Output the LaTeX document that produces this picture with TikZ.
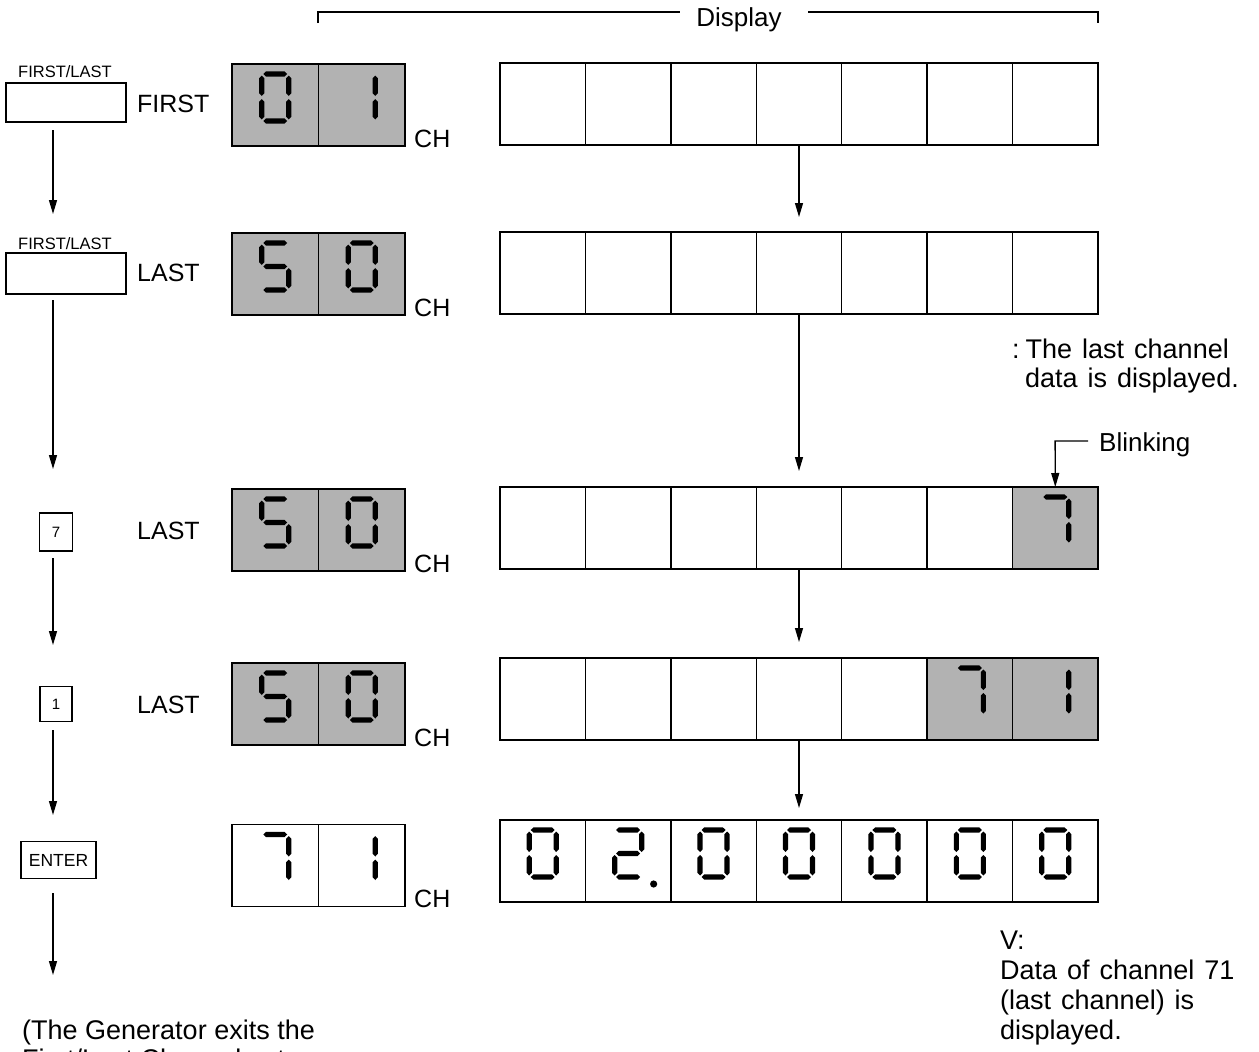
\documentclass[tikz,border=0pt]{standalone}
\usepackage{fontspec}
\setmainfont{Liberation Sans}
\usetikzlibrary{arrows.meta}
% seven segment helpers
\newcommand\HS[3]{\fill ({#1+1.5},#3) -- ({#1+4.2},{#3-2.6}) -- ({#2-4.2},{#3-2.6}) -- ({#2-1.5},#3) -- ({#2-4.2},{#3+2.6}) -- ({#1+4.2},{#3+2.6}) -- cycle;}
\newcommand\VS[3]{\fill (#1,{#2+1.5}) -- ({#1+2.6},{#2+4.2}) -- ({#1+2.6},{#3-4.2}) -- (#1,{#3-1.5}) -- ({#1-2.6},{#3-4.2}) -- ({#1-2.6},{#2+4.2}) -- cycle;}
\newcommand\ssga{\HS{0}{27}{0}}
\newcommand\ssgb{\VS{27}{0}{23.5}}
\newcommand\ssgc{\VS{27}{23.5}{47}}
\newcommand\ssgd{\HS{0}{27}{47}}
\newcommand\ssge{\VS{0}{23.5}{47}}
\newcommand\ssgf{\VS{0}{0}{23.5}}
\newcommand\ssgg{\HS{0}{27}{23.5}}
\newcommand\ssgp{\fill (39,54) circle[radius=3.6];}
\newcommand\SSD[2]{\begin{scope}[shift={(#1)},shift={(-13.5,-31)}]\foreach \s in {#2}{\csname ssg\s\endcsname}\end{scope}}
\newcommand\wsp[1]{\spaceskip=#1\relax}
\begin{document}
\begin{tikzpicture}[x=1pt,y=-1pt,
  box/.style={draw, line width=1.5pt, inner sep=0pt, outer sep=0pt},
  shaded/.style={fill=black!30},
  cell/.style={box, minimum width=85.43pt, minimum height=82pt},
  chb/.style={box, minimum width=86.5pt, minimum height=82pt},
  big/.style={font=\fontsize{25}{30}\selectfont, inner sep=0pt},
  mid/.style={font=\fontsize{26}{30}\selectfont, inner sep=0pt},
  note/.style={font=\fontsize{27}{30}\selectfont, inner sep=0pt},
  small/.style={font=\fontsize{16.5}{20}\selectfont, inner sep=0pt},
  arr/.style={-{Triangle[length=14pt,width=8pt]}, line width=1.3pt}]
\useasboundingbox (0,0) rectangle (1259,1052);

% Display bracket
\node[mid, anchor=base] (disp) at (739,26) {Display};
\coordinate (bl) at (318,23);
\coordinate (bl2) at (318,12);
\coordinate (bl3) at (680,12);
\coordinate (br) at (1098,23);
\coordinate (br2) at (1098,12);
\coordinate (br3) at (808,12);
\draw[line width=1.3pt] (bl) -- (bl2) -- (bl3);
\draw[line width=1.3pt] (br3) -- (br2) -- (br);

% data cells
\foreach \r/\y in {1/104,2/273,3/528,4/699,5/861}{
  \foreach \i in {1,...,7}{
    \node[cell] (d\r-\i) at ({500+85.43*(\i-0.5)},\y) {};
  }
}
\foreach \n in {d3-7,d4-6,d4-7}{
  \fill[shaded] (\n.north west) rectangle (\n.south east);
  \draw[line width=1.5pt] (\n.north west) rectangle (\n.south east);
}

% channel boxes
\foreach \r/\y/\st in {1/105/shaded,2/274/shaded,3/530/shaded,4/704/shaded,5/865.5/{}}{
  \node[chb,\st] (c\r a) at (275.25,\y) {};
  \node[chb,\st] (c\r b) at (361.75,\y) {};
  \node[big, anchor=base west] (ch\r) at ([xshift=9pt,yshift=-1pt]c\r b.south east) {CH};
}

% digits in channel boxes
\SSD{c1a}{a,b,c,d,e,f}
\SSD{c1b}{b,c}
\SSD{c2a}{a,f,g,c,d}
\SSD{c2b}{a,b,c,d,e,f}
\SSD{c3a}{a,f,g,c,d}
\SSD{c3b}{a,b,c,d,e,f}
\SSD{c4a}{a,f,g,c,d}
\SSD{c4b}{a,b,c,d,e,f}
\SSD{c5a}{a,b,c}
\SSD{c5b}{b,c}
% digits in data boxes
\SSD{d3-7}{a,b,c}
\SSD{d4-6}{a,b,c}
\SSD{d4-7}{b,c}
\SSD{d5-1}{a,b,c,d,e,f}
\SSD{d5-2}{a,b,g,e,d,p}
\SSD{d5-3}{a,b,c,d,e,f}
\SSD{d5-4}{a,b,c,d,e,f}
\SSD{d5-5}{a,b,c,d,e,f}
\SSD{d5-6}{a,b,c,d,e,f}
\SSD{d5-7}{a,b,c,d,e,f}

% centre arrows
\draw[arr, shorten >=15pt] (d1-4.south) -- (d2-4.north);
\draw[arr, shorten >=16pt] (d2-4.south) -- (d3-4.north);
\draw[arr, shorten >=16pt] (d3-4.south) -- (d4-4.north);
\draw[arr, shorten >=12pt] (d4-4.south) -- (d5-4.north);

% blinking callout
\node[mid, anchor=west] (blink) at (1099,445) {Blinking};
\coordinate (bt) at (1088,441);
\coordinate (bk) at (1055.1,441);
\draw[arr] (bt) -- (bk) -- (d3-7.north);

% keys
\node[box, minimum width=120pt, minimum height=39pt] (k1) at (66,102.5) {};
\node[small] (k1l) at (65,72) {FIRST/LAST};
\node[big, anchor=west] (t1) at (137,104) {FIRST};
\node[box, minimum width=120pt, minimum height=41pt] (k2) at (66,273.5) {};
\node[small] (k2l) at (65,244) {FIRST/LAST};
\node[big, anchor=west] (t2) at (137,273) {LAST};
\node[box, minimum width=33pt, minimum height=38pt, font=\fontsize{15}{18}\selectfont] (k3) at (56,532) {7};
\node[big, anchor=west] (t3) at (137,531) {LAST};
\node[box, minimum width=32pt, minimum height=35pt, font=\fontsize{15}{18}\selectfont] (k4) at (56,704) {1};
\node[big, anchor=west] (t4) at (137,705) {LAST};
\node[box, minimum width=75pt, minimum height=37pt, font=\fontsize{17.5}{20}\selectfont] (k5) at (58.5,860) {ENTER};

% left arrows
\coordinate (a1) at (53,130); \coordinate (b1) at (53,214);
\coordinate (a2) at (53,300); \coordinate (b2) at (53,469);
\coordinate (a3) at (53,558); \coordinate (b3) at (53,645);
\coordinate (a4) at (53,730); \coordinate (b4) at (53,815);
\coordinate (a5) at (53,893); \coordinate (b5) at (53,975);
\foreach \i in {1,...,5}{\draw[arr] (a\i) -- (b\i);}

% texts
\node[note, anchor=base west] (n1) at (1012,358) {\wsp{10pt}:\kern6pt The last channel};
\node[note, anchor=base west] (n2) at (1025,387) {\wsp{10pt}data is displayed.};
\node[note, anchor=base west] (v1) at (1000,949) {V:};
\node[note, anchor=base west] (v2) at (1000,979) {\wsp{10pt}Data of channel 71};
\node[note, anchor=base west] (v3) at (1000,1009) {\wsp{10pt}(last channel) is};
\node[note, anchor=base west] (v4) at (1000,1039) {displayed.};
\node[note, anchor=base west] (e1) at (22,1039) {(The Generator exits the};
\node[note, anchor=base west] (e2) at (22,1068) {First/Last Channel set};
\end{tikzpicture}
\end{document}
